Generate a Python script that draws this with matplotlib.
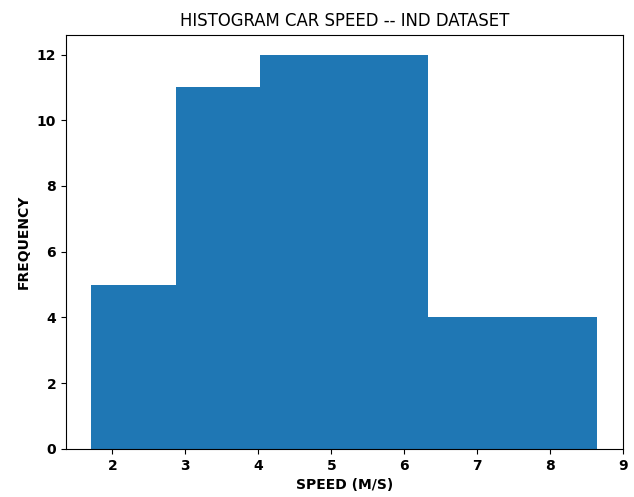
import matplotlib.pyplot as plt
import numpy as np

# bin edges (m/s) and counts
bin_edges = [1.71, 2.865, 4.02, 5.175, 6.33, 7.485, 8.64]
counts = [5, 11, 12, 12, 4, 4]

fig = plt.figure(figsize=(6.34, 4.97), dpi=100)
ax = fig.add_axes([0.104, 0.097, 0.879, 0.833])

ax.hist(bin_edges[:-1], bins=bin_edges, weights=counts, color='#1f77b4')

ax.set_title('HISTOGRAM CAR SPEED -- IND DATASET', fontsize=13.2,
             fontstretch='condensed')
ax.set_xlabel('SPEED (M/S)', fontweight='bold')
ax.set_ylabel('FREQUENCY', fontweight='bold')
ax.set_xticks(range(2, 10))
ax.set_yticks(range(0, 13, 2))
for lab in ax.get_xticklabels() + ax.get_yticklabels():
    lab.set_fontweight('bold')

fig.savefig('out.png', dpi=100)
